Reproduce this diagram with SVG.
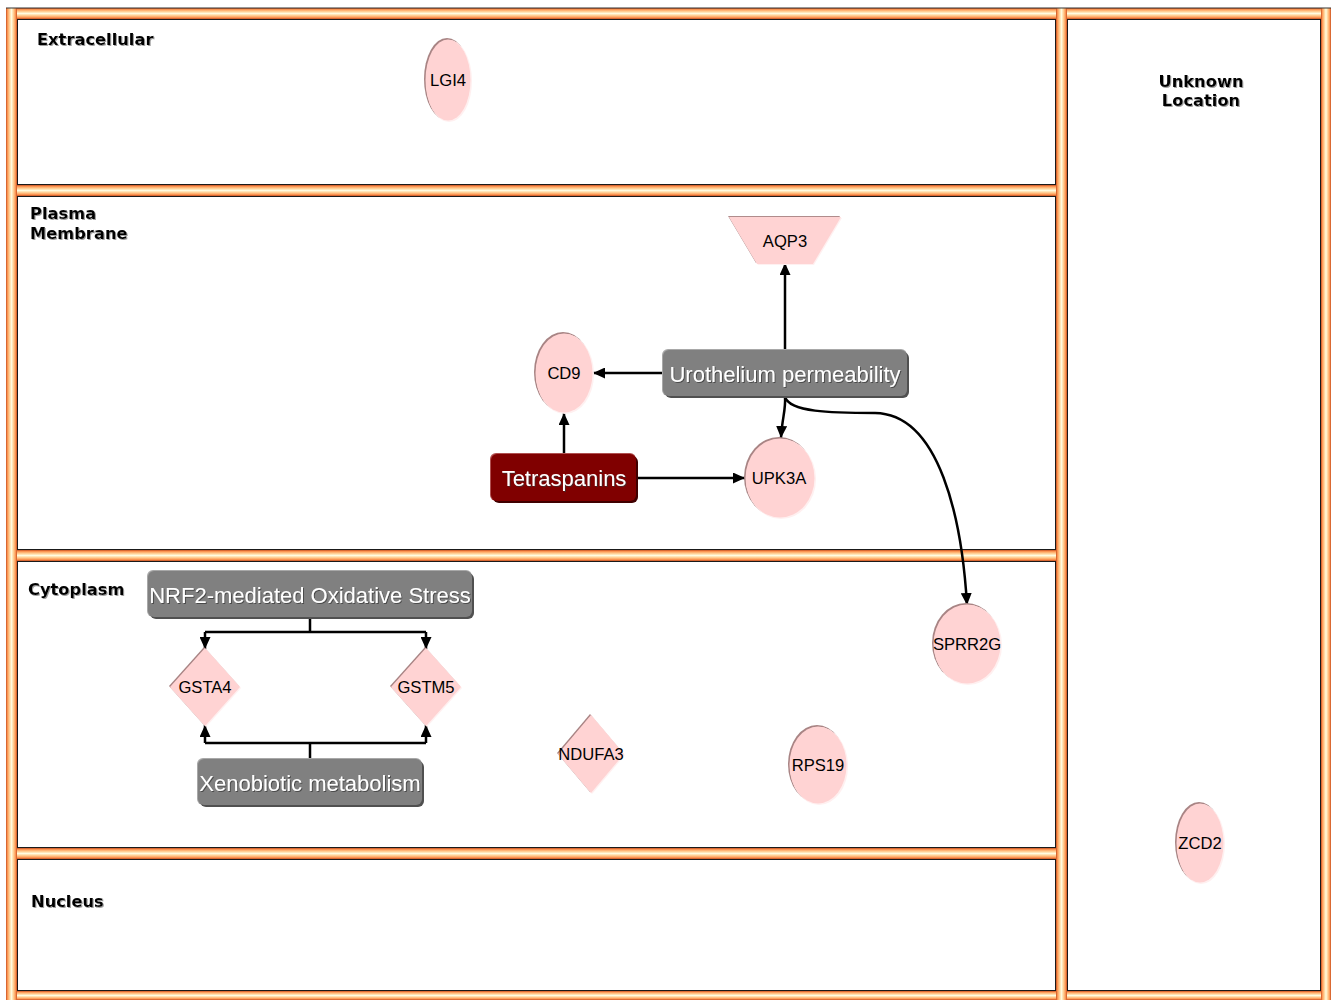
<svg xmlns="http://www.w3.org/2000/svg" width="1331" height="1000" viewBox="0 0 1331 1000">
<style>
.lbl{font-family:"DejaVu Sans",Verdana,sans-serif;font-weight:bold;font-size:16.3px;fill:#000}
.nt{font-family:"Liberation Sans",Arial,sans-serif;font-size:16.6px;fill:#000;text-anchor:middle}
.ft{font-family:"Liberation Sans",Arial,sans-serif;font-size:22px;fill:#fff;text-anchor:middle}
.gene{fill:#ffd3d3}
.gsh{fill:#a88484}
.ghl{fill:#fff0f0}
.grey{fill:#808080}
.greysh{fill:#505050}
.greyhl{fill:#a8a8a8}
.edge{fill:none;stroke:#000;stroke-width:2.5}
.box{fill:#fff;stroke:#1a1a1a;stroke-width:2}
</style>
<defs>
<linearGradient id="hbar" x1="0" y1="0" x2="0" y2="1">
<stop offset="0" stop-color="#c85020"/>
<stop offset="0.15" stop-color="#ff9c58"/>
<stop offset="0.35" stop-color="#ffd8a0"/>
<stop offset="0.5" stop-color="#fffbe0"/>
<stop offset="0.65" stop-color="#ffd8a0"/>
<stop offset="0.85" stop-color="#ff9c58"/>
<stop offset="1" stop-color="#c85020"/>
</linearGradient>
<linearGradient id="vbar" x1="0" y1="0" x2="1" y2="0">
<stop offset="0" stop-color="#c85020"/>
<stop offset="0.15" stop-color="#ff9c58"/>
<stop offset="0.35" stop-color="#ffd8a0"/>
<stop offset="0.5" stop-color="#fffbe0"/>
<stop offset="0.65" stop-color="#ffd8a0"/>
<stop offset="0.85" stop-color="#ff9c58"/>
<stop offset="1" stop-color="#c85020"/>
</linearGradient>
<marker id="arr" viewBox="0 0 12 11" refX="12" refY="5.5" markerWidth="12" markerHeight="11" markerUnits="userSpaceOnUse" orient="auto">
<path d="M0,0 L12,5.5 L0,11 z" fill="#000"/>
</marker>
<filter id="ts" x="-10%" y="-30%" width="120%" height="160%">
<feDropShadow dx="1" dy="1" stdDeviation="0.6" flood-color="#888" flood-opacity="0.8"/>
</filter>
<filter id="tw" x="-5%" y="-30%" width="110%" height="160%">
<feDropShadow dx="1" dy="1" stdDeviation="0.5" flood-color="#333" flood-opacity="0.7"/>
</filter>
</defs>

<rect width="1331" height="1000" fill="#fff"/>

<g id="compartments">
<rect class="box" x="17" y="19" width="1039" height="166"/>
<rect class="box" x="17" y="196" width="1039" height="354"/>
<rect class="box" x="17" y="561" width="1039" height="287"/>
<rect class="box" x="17" y="859" width="1039" height="132"/>
<rect class="box" x="1067" y="19" width="254" height="972"/>
<rect x="6" y="8" width="1325" height="11" fill="url(#hbar)"/>
<rect x="6" y="185" width="1050" height="11" fill="url(#hbar)"/>
<rect x="6" y="550" width="1050" height="11" fill="url(#hbar)"/>
<rect x="6" y="848" width="1050" height="11" fill="url(#hbar)"/>
<rect x="6" y="991" width="1325" height="9" fill="url(#hbar)"/>
<rect x="6" y="8" width="11" height="992" fill="url(#vbar)"/>
<rect x="1056" y="8" width="11" height="992" fill="url(#vbar)"/>
<rect x="1321" y="8" width="10" height="992" fill="url(#vbar)"/>
<line x1="6" y1="8" x2="1331" y2="8" stroke="#333" stroke-width="1"/>
<text class="lbl" x="37" y="45" filter="url(#ts)">Extracellular</text>
<text class="lbl" x="30" y="219" filter="url(#ts)">Plasma</text>
<text class="lbl" x="30" y="239" filter="url(#ts)">Membrane</text>
<text class="lbl" x="28" y="595" filter="url(#ts)">Cytoplasm</text>
<text class="lbl" x="31" y="907" filter="url(#ts)">Nucleus</text>
<text class="lbl" x="1201" y="87" text-anchor="middle" filter="url(#ts)">Unknown</text>
<text class="lbl" x="1201" y="106" text-anchor="middle" filter="url(#ts)">Location</text>
</g>

<g id="connectors">
<line class="edge" x1="785" y1="350" x2="785" y2="263" marker-end="url(#arr)"/>
<line class="edge" x1="663" y1="373" x2="593" y2="373" marker-end="url(#arr)"/>
<line class="edge" x1="564" y1="454" x2="564" y2="413" marker-end="url(#arr)"/>
<line class="edge" x1="637" y1="478" x2="745" y2="478" marker-end="url(#arr)"/>
<path class="edge" d="M785,397 C786,410 782,418 781,438" marker-end="url(#arr)"/>
<path class="edge" d="M785,397 C790,412 830,413 875,413 C940,414 962,520 967,605" marker-end="url(#arr)"/>
<path class="edge" d="M310,617 V632 M205,632 H426"/>
<line class="edge" x1="205" y1="632" x2="205" y2="649" marker-end="url(#arr)"/>
<line class="edge" x1="426" y1="632" x2="426" y2="649" marker-end="url(#arr)"/>
<path class="edge" d="M310,759 V743 M205,743 H426"/>
<line class="edge" x1="205" y1="743" x2="205" y2="725" marker-end="url(#arr)"/>
<line class="edge" x1="426" y1="743" x2="426" y2="725" marker-end="url(#arr)"/>
</g>

<g id="LGI4">
<ellipse class="gsh" cx="447" cy="79" rx="23" ry="41"/>
<ellipse class="ghl" cx="449" cy="81" rx="23" ry="41"/>
<ellipse class="gene" cx="448" cy="80" rx="22.5" ry="40.5"/>
<text class="nt" x="448" y="86">LGI4</text>
</g>

<g id="AQP3">
<polygon points="728,216 840,216 812,263 756,263" fill="#b08c8c"/>
<polygon points="730,218 842,218 814,265 758,265" fill="#fff0f0"/>
<polygon points="729,217 841,217 813,264 757,264" class="gene"/>
<text class="nt" x="785" y="247">AQP3</text>
</g>

<g id="Urothelium">
<rect class="greyhl" x="662" y="349" width="245" height="47" rx="6"/>
<rect class="greysh" x="665" y="352" width="244" height="46" rx="6"/>
<rect class="grey" x="663" y="350" width="244" height="46" rx="6"/>
<text class="ft" x="785" y="382" filter="url(#tw)">Urothelium permeability</text>
</g>

<g id="CD9">
<ellipse class="gsh" cx="563" cy="372" rx="29" ry="40"/>
<ellipse class="ghl" cx="565" cy="374" rx="29" ry="40"/>
<ellipse class="gene" cx="564" cy="373" rx="28.5" ry="39.5"/>
<text class="nt" x="564" y="379">CD9</text>
</g>

<g id="Tetraspanins">
<rect x="490" y="453" width="146" height="48" rx="6" fill="#b05050"/>
<rect x="493" y="456" width="145" height="47" rx="6" fill="#400000"/>
<rect x="491" y="454" width="145" height="47" rx="6" fill="#800000"/>
<text class="ft" x="564" y="486" filter="url(#tw)">Tetraspanins</text>
</g>

<g id="UPK3A">
<ellipse class="gsh" cx="779" cy="477" rx="35" ry="40"/>
<ellipse class="ghl" cx="781" cy="479" rx="35" ry="40"/>
<ellipse class="gene" cx="780" cy="478" rx="34.5" ry="39.5"/>
<text class="nt" x="779" y="484">UPK3A</text>
</g>

<g id="SPRR2G">
<ellipse class="gsh" cx="966" cy="643" rx="34" ry="40"/>
<ellipse class="ghl" cx="968" cy="645" rx="34" ry="40"/>
<ellipse class="gene" cx="967" cy="644" rx="33.5" ry="39.5"/>
<text class="nt" x="967" y="650">SPRR2G</text>
</g>

<g id="NRF2">
<rect class="greyhl" x="147" y="570" width="325" height="47" rx="6"/>
<rect class="greysh" x="150" y="573" width="324" height="46" rx="6"/>
<rect class="grey" x="148" y="571" width="324" height="46" rx="6"/>
<text class="ft" x="310" y="603" filter="url(#tw)">NRF2-mediated Oxidative Stress</text>
</g>

<g id="GSTA4">
<polygon points="204,647 169,686 204,725 239,686" fill="#a88484"/>
<polygon points="206,649 171,688 206,727 241,688" fill="#fff0f0"/>
<polygon points="205,648 170,687 205,726 240,687" class="gene"/>
<text class="nt" x="205" y="693">GSTA4</text>
</g>

<g id="GSTM5">
<polygon points="425,647 390,686 425,725 460,686" fill="#a88484"/>
<polygon points="427,649 392,688 427,727 462,688" fill="#fff0f0"/>
<polygon points="426,648 391,687 426,726 461,687" class="gene"/>
<text class="nt" x="426" y="693">GSTM5</text>
</g>

<g id="Xenobiotic">
<rect class="greyhl" x="197" y="758" width="225" height="47" rx="6"/>
<rect class="greysh" x="200" y="761" width="224" height="46" rx="6"/>
<rect class="grey" x="198" y="759" width="224" height="46" rx="6"/>
<text class="ft" x="310" y="791" filter="url(#tw)">Xenobiotic metabolism</text>
</g>

<g id="NDUFA3">
<polygon points="590,714 557,753 590,792 623,753" fill="#a88484"/>
<polygon points="592,716 559,755 592,794 625,755" fill="#fff0f0"/>
<polygon points="591,715 558,754 591,793 624,754" class="gene"/>
<text class="nt" x="591" y="760">NDUFA3</text>
</g>

<g id="RPS19">
<ellipse class="gsh" cx="817" cy="764" rx="29" ry="39"/>
<ellipse class="ghl" cx="819" cy="766" rx="29" ry="39"/>
<ellipse class="gene" cx="818" cy="765" rx="28.5" ry="38.5"/>
<text class="nt" x="818" y="771">RPS19</text>
</g>

<g id="ZCD2">
<ellipse class="gsh" cx="1199" cy="842" rx="24" ry="40"/>
<ellipse class="ghl" cx="1201" cy="844" rx="24" ry="40"/>
<ellipse class="gene" cx="1200" cy="843" rx="23.5" ry="39.5"/>
<text class="nt" x="1200" y="849">ZCD2</text>
</g>
</svg>
